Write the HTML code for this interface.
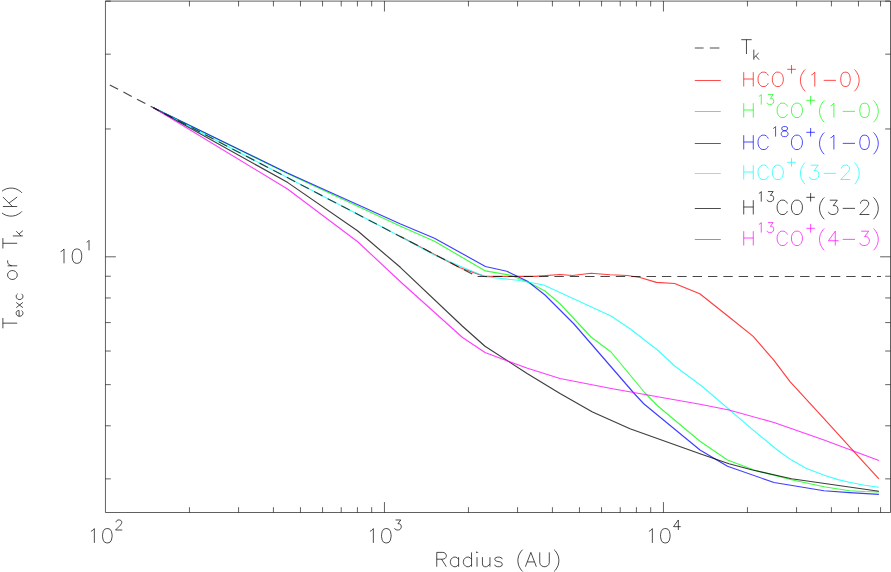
<!DOCTYPE html>
<html><head><meta charset="utf-8"><title>Texc or Tk vs Radius</title>
<style>
html,body{margin:0;padding:0;background:#fff;font-family:"Liberation Sans",sans-serif;}
svg{display:block}
svg *{fill:none;stroke-width:1;stroke-opacity:0.7;stroke-linecap:butt;stroke-linejoin:round}
svg .c{stroke-width:1.15;stroke-opacity:0.76}
svg .a{stroke-width:1;stroke-opacity:0.62}
svg .t{stroke-width:1.15;stroke-opacity:0.72}
</style></head><body>
<svg width="891" height="572" viewBox="0 0 891 572">
<rect x="0" y="0" width="891" height="572" style="fill:#fff;stroke:none"/>
<g>
<rect class="a" x="105.45" y="1.10" width="785.05" height="511.40" fill="none" stroke="#000"/>
<path class="a" d="M189.44 512.50 v-5.30 M189.44 1.10 v5.30 M238.57 512.50 v-5.30 M238.57 1.10 v5.30 M273.42 512.50 v-5.30 M273.42 1.10 v5.30 M300.46 512.50 v-5.30 M300.46 1.10 v5.30 M322.55 512.50 v-5.30 M322.55 1.10 v5.30 M341.23 512.50 v-5.30 M341.23 1.10 v5.30 M357.41 512.50 v-5.30 M357.41 1.10 v5.30 M371.68 512.50 v-5.30 M371.68 1.10 v5.30 M384.45 512.50 v-10.40 M384.45 1.10 v10.40 M468.44 512.50 v-5.30 M468.44 1.10 v5.30 M517.57 512.50 v-5.30 M517.57 1.10 v5.30 M552.42 512.50 v-5.30 M552.42 1.10 v5.30 M579.46 512.50 v-5.30 M579.46 1.10 v5.30 M601.55 512.50 v-5.30 M601.55 1.10 v5.30 M620.23 512.50 v-5.30 M620.23 1.10 v5.30 M636.41 512.50 v-5.30 M636.41 1.10 v5.30 M650.68 512.50 v-5.30 M650.68 1.10 v5.30 M663.45 512.50 v-10.40 M663.45 1.10 v10.40 M747.44 512.50 v-5.30 M747.44 1.10 v5.30 M796.57 512.50 v-5.30 M796.57 1.10 v5.30 M831.42 512.50 v-5.30 M831.42 1.10 v5.30 M858.46 512.50 v-5.30 M858.46 1.10 v5.30 M880.55 512.50 v-5.30 M880.55 1.10 v5.30 M105.45 478.87 h5.30 M890.50 478.87 h-5.30 M105.45 425.81 h5.30 M890.50 425.81 h-5.30 M105.45 384.65 h5.30 M890.50 384.65 h-5.30 M105.45 351.02 h5.30 M890.50 351.02 h-5.30 M105.45 322.59 h5.30 M890.50 322.59 h-5.30 M105.45 297.96 h5.30 M890.50 297.96 h-5.30 M105.45 276.24 h5.30 M890.50 276.24 h-5.30 M105.45 256.81 h10.40 M890.50 256.81 h-10.40 M105.45 128.96 h5.30 M890.50 128.96 h-5.30 M105.45 54.17 h5.30 M890.50 54.17 h-5.30 M105.45 1.11 h5.30 M890.50 1.11 h-5.30" stroke="#000"/>
<polyline class="c" points="400.00,236.34 460.00,267.83 484.50,276.40 535.00,276.40 560.00,274.50 572.50,275.50 591.00,273.25 610.00,274.75 627.50,275.50 640.00,277.50 656.40,282.40 674.60,283.50 699.80,293.80 727.50,315.70 753.20,336.40 774.00,360.30 790.00,381.60 824.00,418.60 864.00,462.70 878.90,478.80" stroke="#ff0000" />
<polyline class="c" points="153.50,107.80 287.50,173.50 400.00,226.00 434.50,241.30 485.40,270.90 510.60,275.30 528.75,282.50 545.00,291.00 560.00,303.75 591.00,337.00 611.00,352.00 645.00,393.00 657.50,405.75 700.00,441.25 727.50,460.00 754.00,470.00 791.50,479.70 824.00,486.80 849.50,490.70 864.60,491.50 878.90,491.90" stroke="#00ff00" />
<polyline class="c" points="153.50,107.80 287.50,173.00 400.00,223.75 434.50,238.20 485.40,266.50 506.80,271.20 527.50,281.25 545.00,295.00 573.75,323.75 633.75,393.00 643.75,403.75 700.00,450.00 727.50,466.25 774.00,482.50 824.00,490.70 849.50,492.60 878.90,494.40" stroke="#0000ff" />
<polyline class="c" points="153.50,107.80 400.30,236.50 434.50,255.04 462.50,267.30 485.40,276.80 518.00,280.30 543.75,285.00 611.00,316.00 630.00,328.75 657.50,350.00 675.00,366.25 702.00,386.25 755.00,431.60 774.00,447.20 779.00,451.30 791.60,460.10 806.00,468.30 824.30,475.20 838.00,479.60 849.50,482.30 864.60,485.30 878.90,487.20" stroke="#00ffff" />
<polyline class="c" points="153.50,107.80 287.80,182.60 357.50,230.80 400.30,267.30 462.50,326.25 485.00,346.25 527.50,373.75 560.00,393.50 592.50,412.00 630.00,428.75 700.00,453.75 729.00,463.75 752.50,470.00 791.50,478.70 878.90,491.30" stroke="#000000" />
<polyline class="c" points="153.50,107.80 287.50,189.00 358.00,242.00 401.80,283.00 462.50,337.50 485.00,352.50 527.50,368.25 560.00,378.50 612.50,388.75 700.00,404.25 729.00,410.00 774.00,422.50 824.00,440.00 878.90,460.50" stroke="#ff00ff" />
<polyline class="t" points="107.40,83.75 477.00,276.50 881.00,276.50" stroke="#000" stroke-dasharray="9.4 5.96" stroke-dashoffset="-2.7"/>
<path d="M694.80 48.00 H703.60 M709.80 48.00 H719.40" stroke="#000"/>
<g transform="translate(741.00 54.00) translate(0.00 0)" stroke="#000" role="img" aria-label="T_k"><title>T_k</title><path d="M5.46 -14.32 L5.46 0.00 M0.27 -14.32 L10.64 -14.32 M12.82 -4.33 L12.82 5.70 M17.60 -0.98 L12.82 3.79 M14.73 1.88 L18.07 5.70"/></g>
<path d="M694.80 80.50 H720.80" stroke="#ff0000"/>
<g transform="translate(741.00 86.50) translate(0.00 0)" stroke="#ff0000" role="img" aria-label="HCO+(1-0)"><title>HCO+(1-0)</title><path d="M2.73 -14.32 L2.73 0.00 M12.28 -14.32 L12.28 0.00 M2.73 -7.50 L12.28 -7.50 M27.28 -10.91 L26.60 -12.28 L25.23 -13.64 L23.87 -14.32 L21.14 -14.32 L19.78 -13.64 L18.41 -12.28 L17.73 -10.91 L17.05 -8.87 L17.05 -5.46 L17.73 -3.41 L18.41 -2.05 L19.78 -0.68 L21.14 0.00 L23.87 0.00 L25.23 -0.68 L26.60 -2.05 L27.28 -3.41 M35.46 -14.32 L34.10 -13.64 L32.74 -12.28 L32.05 -10.91 L31.37 -8.87 L31.37 -5.46 L32.05 -3.41 L32.74 -2.05 L34.10 -0.68 L35.46 0.00 L38.19 0.00 L39.56 -0.68 L40.92 -2.05 L41.60 -3.41 L42.28 -5.46 L42.28 -8.87 L41.60 -10.91 L40.92 -12.28 L39.56 -13.64 L38.19 -14.32 L35.46 -14.32 M50.54 -21.49 L50.54 -12.90 M46.24 -17.20 L54.83 -17.20 M64.24 -17.05 L62.88 -15.69 L61.52 -13.64 L60.15 -10.91 L59.47 -7.50 L59.47 -4.77 L60.15 -1.36 L61.52 1.36 L62.88 3.41 L64.24 4.77 M70.38 -11.59 L71.75 -12.28 L73.79 -14.32 L73.79 0.00 M82.66 -6.14 L94.93 -6.14 M103.80 -14.32 L101.75 -13.64 L100.39 -11.59 L99.71 -8.18 L99.71 -6.14 L100.39 -2.73 L101.75 -0.68 L103.80 0.00 L105.16 0.00 L107.21 -0.68 L108.57 -2.73 L109.26 -6.14 L109.26 -8.18 L108.57 -11.59 L107.21 -13.64 L105.16 -14.32 L103.80 -14.32 M113.35 -17.05 L114.71 -15.69 L116.08 -13.64 L117.44 -10.91 L118.12 -7.50 L118.12 -4.77 L117.44 -1.36 L116.08 1.36 L114.71 3.41 L113.35 4.77"/></g>
<path d="M694.80 111.50 H720.80" stroke="#00ff00"/>
<g transform="translate(741.00 117.50) translate(0.00 0)" stroke="#00ff00" role="img" aria-label="H13CO+(1-0)"><title>H13CO+(1-0)</title><path d="M2.73 -14.32 L2.73 0.00 M12.28 -14.32 L12.28 0.00 M2.73 -7.50 L12.28 -7.50 M17.87 -21.02 L18.82 -21.49 L20.26 -22.93 L20.26 -12.90 M26.94 -22.93 L32.19 -22.93 L29.33 -19.11 L30.76 -19.11 L31.71 -18.63 L32.19 -18.15 L32.67 -16.72 L32.67 -15.76 L32.19 -14.33 L31.24 -13.38 L29.80 -12.90 L28.37 -12.90 L26.94 -13.38 L26.46 -13.85 L25.98 -14.81 M46.38 -10.91 L45.69 -12.28 L44.33 -13.64 L42.97 -14.32 L40.24 -14.32 L38.87 -13.64 L37.51 -12.28 L36.83 -10.91 L36.15 -8.87 L36.15 -5.46 L36.83 -3.41 L37.51 -2.05 L38.87 -0.68 L40.24 0.00 L42.97 0.00 L44.33 -0.68 L45.69 -2.05 L46.38 -3.41 M54.56 -14.32 L53.20 -13.64 L51.83 -12.28 L51.15 -10.91 L50.47 -8.87 L50.47 -5.46 L51.15 -3.41 L51.83 -2.05 L53.20 -0.68 L54.56 0.00 L57.29 0.00 L58.65 -0.68 L60.02 -2.05 L60.70 -3.41 L61.38 -5.46 L61.38 -8.87 L60.70 -10.91 L60.02 -12.28 L58.65 -13.64 L57.29 -14.32 L54.56 -14.32 M69.63 -21.49 L69.63 -12.90 M65.34 -17.20 L73.93 -17.20 M83.34 -17.05 L81.98 -15.69 L80.61 -13.64 L79.25 -10.91 L78.57 -7.50 L78.57 -4.77 L79.25 -1.36 L80.61 1.36 L81.98 3.41 L83.34 4.77 M89.48 -11.59 L90.84 -12.28 L92.89 -14.32 L92.89 0.00 M101.75 -6.14 L114.03 -6.14 M122.90 -14.32 L120.85 -13.64 L119.49 -11.59 L118.80 -8.18 L118.80 -6.14 L119.49 -2.73 L120.85 -0.68 L122.90 0.00 L124.26 0.00 L126.31 -0.68 L127.67 -2.73 L128.35 -6.14 L128.35 -8.18 L127.67 -11.59 L126.31 -13.64 L124.26 -14.32 L122.90 -14.32 M132.44 -17.05 L133.81 -15.69 L135.17 -13.64 L136.54 -10.91 L137.22 -7.50 L137.22 -4.77 L136.54 -1.36 L135.17 1.36 L133.81 3.41 L132.44 4.77"/></g>
<path d="M694.80 143.50 H720.80" stroke="#0000ff"/>
<g transform="translate(741.00 149.50) translate(0.00 0)" stroke="#0000ff" role="img" aria-label="HC18O+(1-0)"><title>HC18O+(1-0)</title><path d="M2.73 -14.32 L2.73 0.00 M12.28 -14.32 L12.28 0.00 M2.73 -7.50 L12.28 -7.50 M27.28 -10.91 L26.60 -12.28 L25.23 -13.64 L23.87 -14.32 L21.14 -14.32 L19.78 -13.64 L18.41 -12.28 L17.73 -10.91 L17.05 -8.87 L17.05 -5.46 L17.73 -3.41 L18.41 -2.05 L19.78 -0.68 L21.14 0.00 L23.87 0.00 L25.23 -0.68 L26.60 -2.05 L27.28 -3.41 M32.19 -21.02 L33.15 -21.49 L34.58 -22.93 L34.58 -12.90 M42.69 -22.93 L41.26 -22.45 L40.78 -21.49 L40.78 -20.54 L41.26 -19.58 L42.22 -19.11 L44.13 -18.63 L45.56 -18.15 L46.51 -17.20 L46.99 -16.24 L46.99 -14.81 L46.51 -13.85 L46.04 -13.38 L44.60 -12.90 L42.69 -12.90 L41.26 -13.38 L40.78 -13.85 L40.31 -14.81 L40.31 -16.24 L40.78 -17.20 L41.74 -18.15 L43.17 -18.63 L45.08 -19.11 L46.04 -19.58 L46.51 -20.54 L46.51 -21.49 L46.04 -22.45 L44.60 -22.93 L42.69 -22.93 M54.56 -14.32 L53.20 -13.64 L51.83 -12.28 L51.15 -10.91 L50.47 -8.87 L50.47 -5.46 L51.15 -3.41 L51.83 -2.05 L53.20 -0.68 L54.56 0.00 L57.29 0.00 L58.65 -0.68 L60.02 -2.05 L60.70 -3.41 L61.38 -5.46 L61.38 -8.87 L60.70 -10.91 L60.02 -12.28 L58.65 -13.64 L57.29 -14.32 L54.56 -14.32 M69.63 -21.49 L69.63 -12.90 M65.34 -17.20 L73.93 -17.20 M83.34 -17.05 L81.98 -15.69 L80.61 -13.64 L79.25 -10.91 L78.57 -7.50 L78.57 -4.77 L79.25 -1.36 L80.61 1.36 L81.98 3.41 L83.34 4.77 M89.48 -11.59 L90.84 -12.28 L92.89 -14.32 L92.89 0.00 M101.75 -6.14 L114.03 -6.14 M122.90 -14.32 L120.85 -13.64 L119.49 -11.59 L118.80 -8.18 L118.80 -6.14 L119.49 -2.73 L120.85 -0.68 L122.90 0.00 L124.26 0.00 L126.31 -0.68 L127.67 -2.73 L128.35 -6.14 L128.35 -8.18 L127.67 -11.59 L126.31 -13.64 L124.26 -14.32 L122.90 -14.32 M132.44 -17.05 L133.81 -15.69 L135.17 -13.64 L136.54 -10.91 L137.22 -7.50 L137.22 -4.77 L136.54 -1.36 L135.17 1.36 L133.81 3.41 L132.44 4.77"/></g>
<path d="M694.80 173.50 H720.80" stroke="#00ffff"/>
<g transform="translate(741.00 179.50) translate(0.00 0)" stroke="#00ffff" role="img" aria-label="HCO+(3-2)"><title>HCO+(3-2)</title><path d="M2.73 -14.32 L2.73 0.00 M12.28 -14.32 L12.28 0.00 M2.73 -7.50 L12.28 -7.50 M27.28 -10.91 L26.60 -12.28 L25.23 -13.64 L23.87 -14.32 L21.14 -14.32 L19.78 -13.64 L18.41 -12.28 L17.73 -10.91 L17.05 -8.87 L17.05 -5.46 L17.73 -3.41 L18.41 -2.05 L19.78 -0.68 L21.14 0.00 L23.87 0.00 L25.23 -0.68 L26.60 -2.05 L27.28 -3.41 M35.46 -14.32 L34.10 -13.64 L32.74 -12.28 L32.05 -10.91 L31.37 -8.87 L31.37 -5.46 L32.05 -3.41 L32.74 -2.05 L34.10 -0.68 L35.46 0.00 L38.19 0.00 L39.56 -0.68 L40.92 -2.05 L41.60 -3.41 L42.28 -5.46 L42.28 -8.87 L41.60 -10.91 L40.92 -12.28 L39.56 -13.64 L38.19 -14.32 L35.46 -14.32 M50.54 -21.49 L50.54 -12.90 M46.24 -17.20 L54.83 -17.20 M64.24 -17.05 L62.88 -15.69 L61.52 -13.64 L60.15 -10.91 L59.47 -7.50 L59.47 -4.77 L60.15 -1.36 L61.52 1.36 L62.88 3.41 L64.24 4.77 M69.70 -14.32 L77.20 -14.32 L73.11 -8.87 L75.16 -8.87 L76.52 -8.18 L77.20 -7.50 L77.88 -5.46 L77.88 -4.09 L77.20 -2.05 L75.84 -0.68 L73.79 0.00 L71.75 0.00 L69.70 -0.68 L69.02 -1.36 L68.34 -2.73 M82.66 -6.14 L94.93 -6.14 M100.39 -10.91 L100.39 -11.59 L101.07 -12.96 L101.75 -13.64 L103.12 -14.32 L105.85 -14.32 L107.21 -13.64 L107.89 -12.96 L108.57 -11.59 L108.57 -10.23 L107.89 -8.87 L106.53 -6.82 L99.71 0.00 L109.26 0.00 M113.35 -17.05 L114.71 -15.69 L116.08 -13.64 L117.44 -10.91 L118.12 -7.50 L118.12 -4.77 L117.44 -1.36 L116.08 1.36 L114.71 3.41 L113.35 4.77"/></g>
<path d="M694.80 208.50 H720.80" stroke="#000000"/>
<g transform="translate(741.00 214.50) translate(0.00 0)" stroke="#000000" role="img" aria-label="H13CO+(3-2)"><title>H13CO+(3-2)</title><path d="M2.73 -14.32 L2.73 0.00 M12.28 -14.32 L12.28 0.00 M2.73 -7.50 L12.28 -7.50 M17.87 -21.02 L18.82 -21.49 L20.26 -22.93 L20.26 -12.90 M26.94 -22.93 L32.19 -22.93 L29.33 -19.11 L30.76 -19.11 L31.71 -18.63 L32.19 -18.15 L32.67 -16.72 L32.67 -15.76 L32.19 -14.33 L31.24 -13.38 L29.80 -12.90 L28.37 -12.90 L26.94 -13.38 L26.46 -13.85 L25.98 -14.81 M46.38 -10.91 L45.69 -12.28 L44.33 -13.64 L42.97 -14.32 L40.24 -14.32 L38.87 -13.64 L37.51 -12.28 L36.83 -10.91 L36.15 -8.87 L36.15 -5.46 L36.83 -3.41 L37.51 -2.05 L38.87 -0.68 L40.24 0.00 L42.97 0.00 L44.33 -0.68 L45.69 -2.05 L46.38 -3.41 M54.56 -14.32 L53.20 -13.64 L51.83 -12.28 L51.15 -10.91 L50.47 -8.87 L50.47 -5.46 L51.15 -3.41 L51.83 -2.05 L53.20 -0.68 L54.56 0.00 L57.29 0.00 L58.65 -0.68 L60.02 -2.05 L60.70 -3.41 L61.38 -5.46 L61.38 -8.87 L60.70 -10.91 L60.02 -12.28 L58.65 -13.64 L57.29 -14.32 L54.56 -14.32 M69.63 -21.49 L69.63 -12.90 M65.34 -17.20 L73.93 -17.20 M83.34 -17.05 L81.98 -15.69 L80.61 -13.64 L79.25 -10.91 L78.57 -7.50 L78.57 -4.77 L79.25 -1.36 L80.61 1.36 L81.98 3.41 L83.34 4.77 M88.80 -14.32 L96.30 -14.32 L92.21 -8.87 L94.25 -8.87 L95.62 -8.18 L96.30 -7.50 L96.98 -5.46 L96.98 -4.09 L96.30 -2.05 L94.93 -0.68 L92.89 0.00 L90.84 0.00 L88.80 -0.68 L88.11 -1.36 L87.43 -2.73 M101.75 -6.14 L114.03 -6.14 M119.49 -10.91 L119.49 -11.59 L120.17 -12.96 L120.85 -13.64 L122.21 -14.32 L124.94 -14.32 L126.31 -13.64 L126.99 -12.96 L127.67 -11.59 L127.67 -10.23 L126.99 -8.87 L125.62 -6.82 L118.80 0.00 L128.35 0.00 M132.44 -17.05 L133.81 -15.69 L135.17 -13.64 L136.54 -10.91 L137.22 -7.50 L137.22 -4.77 L136.54 -1.36 L135.17 1.36 L133.81 3.41 L132.44 4.77"/></g>
<path d="M694.80 239.50 H720.80" stroke="#ff00ff"/>
<g transform="translate(741.00 245.50) translate(0.00 0)" stroke="#ff00ff" role="img" aria-label="H13CO+(4-3)"><title>H13CO+(4-3)</title><path d="M2.73 -14.32 L2.73 0.00 M12.28 -14.32 L12.28 0.00 M2.73 -7.50 L12.28 -7.50 M17.87 -21.02 L18.82 -21.49 L20.26 -22.93 L20.26 -12.90 M26.94 -22.93 L32.19 -22.93 L29.33 -19.11 L30.76 -19.11 L31.71 -18.63 L32.19 -18.15 L32.67 -16.72 L32.67 -15.76 L32.19 -14.33 L31.24 -13.38 L29.80 -12.90 L28.37 -12.90 L26.94 -13.38 L26.46 -13.85 L25.98 -14.81 M46.38 -10.91 L45.69 -12.28 L44.33 -13.64 L42.97 -14.32 L40.24 -14.32 L38.87 -13.64 L37.51 -12.28 L36.83 -10.91 L36.15 -8.87 L36.15 -5.46 L36.83 -3.41 L37.51 -2.05 L38.87 -0.68 L40.24 0.00 L42.97 0.00 L44.33 -0.68 L45.69 -2.05 L46.38 -3.41 M54.56 -14.32 L53.20 -13.64 L51.83 -12.28 L51.15 -10.91 L50.47 -8.87 L50.47 -5.46 L51.15 -3.41 L51.83 -2.05 L53.20 -0.68 L54.56 0.00 L57.29 0.00 L58.65 -0.68 L60.02 -2.05 L60.70 -3.41 L61.38 -5.46 L61.38 -8.87 L60.70 -10.91 L60.02 -12.28 L58.65 -13.64 L57.29 -14.32 L54.56 -14.32 M69.63 -21.49 L69.63 -12.90 M65.34 -17.20 L73.93 -17.20 M83.34 -17.05 L81.98 -15.69 L80.61 -13.64 L79.25 -10.91 L78.57 -7.50 L78.57 -4.77 L79.25 -1.36 L80.61 1.36 L81.98 3.41 L83.34 4.77 M94.25 -14.32 L87.43 -4.77 L97.66 -4.77 M94.25 -14.32 L94.25 0.00 M101.75 -6.14 L114.03 -6.14 M120.17 -14.32 L127.67 -14.32 L123.58 -8.87 L125.62 -8.87 L126.99 -8.18 L127.67 -7.50 L128.35 -5.46 L128.35 -4.09 L127.67 -2.05 L126.31 -0.68 L124.26 0.00 L122.21 0.00 L120.17 -0.68 L119.49 -1.36 L118.80 -2.73 M132.44 -17.05 L133.81 -15.69 L135.17 -13.64 L136.54 -10.91 L137.22 -7.50 L137.22 -4.77 L136.54 -1.36 L135.17 1.36 L133.81 3.41 L132.44 4.77"/></g>
<g transform="translate(86.85 542.90) translate(0.00 0)" stroke="#000" role="img" aria-label="10^2"><title>10^2</title><path d="M4.09 -11.59 L5.46 -12.28 L7.50 -14.32 L7.50 0.00 M19.78 -14.32 L17.73 -13.64 L16.37 -11.59 L15.69 -8.18 L15.69 -6.14 L16.37 -2.73 L17.73 -0.68 L19.78 0.00 L21.14 0.00 L23.19 -0.68 L24.55 -2.73 L25.23 -6.14 L25.23 -8.18 L24.55 -11.59 L23.19 -13.64 L21.14 -14.32 L19.78 -14.32 M29.19 -20.54 L29.19 -21.02 L29.67 -21.97 L30.14 -22.45 L31.10 -22.93 L33.01 -22.93 L33.96 -22.45 L34.44 -21.97 L34.92 -21.02 L34.92 -20.06 L34.44 -19.11 L33.49 -17.67 L28.71 -12.90 L35.40 -12.90"/></g>
<g transform="translate(365.85 542.90) translate(0.00 0)" stroke="#000" role="img" aria-label="10^3"><title>10^3</title><path d="M4.09 -11.59 L5.46 -12.28 L7.50 -14.32 L7.50 0.00 M19.78 -14.32 L17.73 -13.64 L16.37 -11.59 L15.69 -8.18 L15.69 -6.14 L16.37 -2.73 L17.73 -0.68 L19.78 0.00 L21.14 0.00 L23.19 -0.68 L24.55 -2.73 L25.23 -6.14 L25.23 -8.18 L24.55 -11.59 L23.19 -13.64 L21.14 -14.32 L19.78 -14.32 M29.67 -22.93 L34.92 -22.93 L32.05 -19.11 L33.49 -19.11 L34.44 -18.63 L34.92 -18.15 L35.40 -16.72 L35.40 -15.76 L34.92 -14.33 L33.96 -13.38 L32.53 -12.90 L31.10 -12.90 L29.67 -13.38 L29.19 -13.85 L28.71 -14.81"/></g>
<g transform="translate(644.85 542.90) translate(0.00 0)" stroke="#000" role="img" aria-label="10^4"><title>10^4</title><path d="M4.09 -11.59 L5.46 -12.28 L7.50 -14.32 L7.50 0.00 M19.78 -14.32 L17.73 -13.64 L16.37 -11.59 L15.69 -8.18 L15.69 -6.14 L16.37 -2.73 L17.73 -0.68 L19.78 0.00 L21.14 0.00 L23.19 -0.68 L24.55 -2.73 L25.23 -6.14 L25.23 -8.18 L24.55 -11.59 L23.19 -13.64 L21.14 -14.32 L19.78 -14.32 M33.49 -22.93 L28.71 -16.24 L35.87 -16.24 M33.49 -22.93 L33.49 -12.90"/></g>
<g transform="translate(56.50 263.30) translate(0.00 0)" stroke="#000" role="img" aria-label="10^1"><title>10^1</title><path d="M4.09 -11.59 L5.46 -12.28 L7.50 -14.32 L7.50 0.00 M19.78 -14.32 L17.73 -13.64 L16.37 -11.59 L15.69 -8.18 L15.69 -6.14 L16.37 -2.73 L17.73 -0.68 L19.78 0.00 L21.14 0.00 L23.19 -0.68 L24.55 -2.73 L25.23 -6.14 L25.23 -8.18 L24.55 -11.59 L23.19 -13.64 L21.14 -14.32 L19.78 -14.32 M30.14 -21.02 L31.10 -21.49 L32.53 -22.93 L32.53 -12.90"/></g>
<g transform="translate(497.80 566.70) translate(-63.77 0)" stroke="#000" role="img" aria-label="Radius (AU)"><title>Radius (AU)</title><path d="M2.73 -14.32 L2.73 0.00 M2.73 -14.32 L8.87 -14.32 L10.91 -13.64 L11.59 -12.96 L12.28 -11.59 L12.28 -10.23 L11.59 -8.87 L10.91 -8.18 L8.87 -7.50 L2.73 -7.50 M7.50 -7.50 L12.28 0.00 M24.55 -9.55 L24.55 0.00 M24.55 -7.50 L23.19 -8.87 L21.82 -9.55 L19.78 -9.55 L18.41 -8.87 L17.05 -7.50 L16.37 -5.46 L16.37 -4.09 L17.05 -2.05 L18.41 -0.68 L19.78 0.00 L21.82 0.00 L23.19 -0.68 L24.55 -2.05 M37.51 -14.32 L37.51 0.00 M37.51 -7.50 L36.15 -8.87 L34.78 -9.55 L32.74 -9.55 L31.37 -8.87 L30.01 -7.50 L29.33 -5.46 L29.33 -4.09 L30.01 -2.05 L31.37 -0.68 L32.74 0.00 L34.78 0.00 L36.15 -0.68 L37.51 -2.05 M42.28 -14.32 L42.97 -13.64 L43.65 -14.32 L42.97 -15.00 L42.28 -14.32 M42.97 -9.55 L42.97 0.00 M48.42 -9.55 L48.42 -2.73 L49.10 -0.68 L50.47 0.00 L52.51 0.00 L53.88 -0.68 L55.92 -2.73 M55.92 -9.55 L55.92 0.00 M68.20 -7.50 L67.52 -8.87 L65.47 -9.55 L63.43 -9.55 L61.38 -8.87 L60.70 -7.50 L61.38 -6.14 L62.74 -5.46 L66.15 -4.77 L67.52 -4.09 L68.20 -2.73 L68.20 -2.05 L67.52 -0.68 L65.47 0.00 L63.43 0.00 L61.38 -0.68 L60.70 -2.05 M88.66 -17.05 L87.30 -15.69 L85.93 -13.64 L84.57 -10.91 L83.89 -7.50 L83.89 -4.77 L84.57 -1.36 L85.93 1.36 L87.30 3.41 L88.66 4.77 M96.84 -14.32 L91.39 0.00 M96.84 -14.32 L102.30 0.00 M93.43 -4.77 L100.25 -4.77 M105.71 -14.32 L105.71 -4.09 L106.39 -2.05 L107.76 -0.68 L109.80 0.00 L111.17 0.00 L113.21 -0.68 L114.58 -2.05 L115.26 -4.09 L115.26 -14.32 M120.03 -17.05 L121.40 -15.69 L122.76 -13.64 L124.12 -10.91 L124.81 -7.50 L124.81 -4.77 L124.12 -1.36 L122.76 1.36 L121.40 3.41 L120.03 4.77"/></g>
<clipPath id="cl"><rect x="1.9" y="0" width="60" height="572"/></clipPath><g clip-path="url(#cl)"><g transform="translate(17.20 257.00) rotate(-90) translate(-71.61 0)" stroke="#000" role="img" aria-label="T_exc or T_k (K)"><title>T_exc or T_k (K)</title><path d="M5.46 -14.32 L5.46 0.00 M0.27 -14.32 L10.64 -14.32 M12.34 1.88 L18.07 1.88 L18.07 0.93 L17.60 -0.03 L17.12 -0.51 L16.16 -0.98 L14.73 -0.98 L13.78 -0.51 L12.82 0.45 L12.34 1.88 L12.34 2.84 L12.82 4.27 L13.78 5.22 L14.73 5.70 L16.16 5.70 L17.12 5.22 L18.07 4.27 M20.94 -0.98 L26.19 5.70 M26.19 -0.98 L20.94 5.70 M34.78 0.45 L33.83 -0.51 L32.87 -0.98 L31.44 -0.98 L30.49 -0.51 L29.53 0.45 L29.05 1.88 L29.05 2.84 L29.53 4.27 L30.49 5.22 L31.44 5.70 L32.87 5.70 L33.83 5.22 L34.78 4.27 M52.58 -9.55 L51.22 -8.87 L49.85 -7.50 L49.17 -5.46 L49.17 -4.09 L49.85 -2.05 L51.22 -0.68 L52.58 0.00 L54.63 0.00 L55.99 -0.68 L57.36 -2.05 L58.04 -4.09 L58.04 -5.46 L57.36 -7.50 L55.99 -8.87 L54.63 -9.55 L52.58 -9.55 M62.81 -9.55 L62.81 0.00 M62.81 -5.46 L63.49 -7.50 L64.86 -8.87 L66.22 -9.55 L68.27 -9.55 M85.32 -14.32 L85.32 0.00 M80.14 -14.32 L90.50 -14.32 M92.68 -4.33 L92.68 5.70 M97.46 -0.98 L92.68 3.79 M94.59 1.88 L97.94 5.70 M117.30 -17.05 L115.94 -15.69 L114.58 -13.64 L113.21 -10.91 L112.53 -7.50 L112.53 -4.77 L113.21 -1.36 L114.58 1.36 L115.94 3.41 L117.30 4.77 M122.08 -14.32 L122.08 0.00 M131.63 -14.32 L122.08 -4.77 M125.49 -8.18 L131.63 0.00 M135.72 -17.05 L137.08 -15.69 L138.45 -13.64 L139.81 -10.91 L140.49 -7.50 L140.49 -4.77 L139.81 -1.36 L138.45 1.36 L137.08 3.41 L135.72 4.77"/></g></g>
</g>
</svg>
</body></html>
